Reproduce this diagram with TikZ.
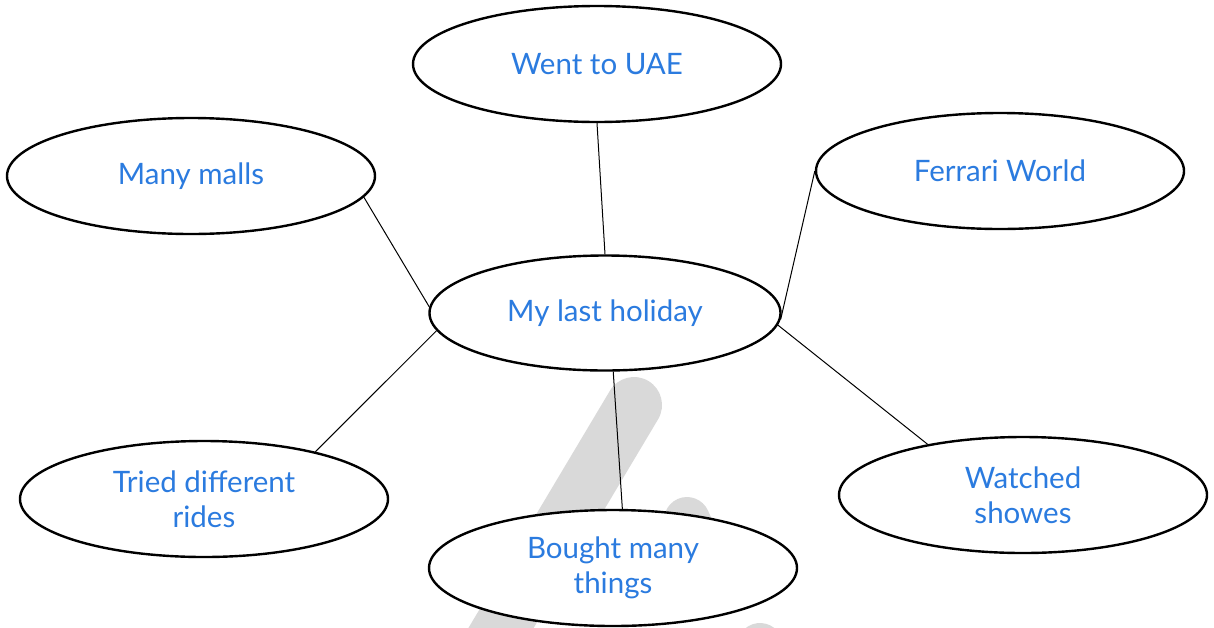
\documentclass[tikz,border=0pt]{standalone}
\usepackage{fontspec}
\setmainfont{Lato}
\usetikzlibrary{shapes.geometric}
\definecolor{txtblue}{HTML}{2B7BDF}
\definecolor{wmgrey}{HTML}{D9D9D9}
\pgfdeclarelayer{wmlayer}
\pgfdeclarelayer{linklayer}
\pgfsetlayers{wmlayer,linklayer,main}
\tikzset{
  bubble/.style={ellipse, draw=black, line width=2.4pt, fill=white, inner sep=0pt,
    minimum width=368pt, minimum height=116pt, text=txtblue, align=center,
    font=\fontsize{29.5}{35}\selectfont},
  link/.style={draw=black, line width=1pt},
  wmstroke/.style={draw=wmgrey, line cap=round}
}
\begin{document}
\begin{tikzpicture}[x=1pt,y=-1pt]
\useasboundingbox (0,0) rectangle (1214,627);
% nodes
\node[bubble] (uae) at (597,64) {Went to UAE};
\node[bubble] (malls) at (191,176) {Many malls};
\node[bubble] (ferrari) at (1000,171) {Ferrari World};
\node[bubble, minimum width=351pt, minimum height=115pt] (hol) at (605,313) {My last holiday};
\node[bubble] (rides) at (204,499) {Tried different\\rides};
\node[bubble] (bought) at (613,568) {Bought many\\things};
\node[bubble] (shows) at (1023,495) {Watched\\showes};
% watermark strokes
\begin{pgfonlayer}{wmlayer}
\draw[wmstroke, line width=56pt] (634,405) -- (470,680);
\draw[wmstroke, line width=46pt] (687,520) -- (705,560);
\draw[wmstroke, line width=46pt] (760,646) -- (775,690);
\end{pgfonlayer}
% connectors
\begin{pgfonlayer}{linklayer}
\draw[link] (hol.north) -- (uae.south);
\draw[link] (hol.178) -- (malls.-7);
\draw[link] (hol.-2) -- (ferrari.west);
\draw[link] (hol.-174) -- (rides.23);
\draw[link] (hol.-82) -- (bought.81);
\draw[link] (hol.-4) -- (shows.152);
\end{pgfonlayer}
\end{tikzpicture}
\end{document}
